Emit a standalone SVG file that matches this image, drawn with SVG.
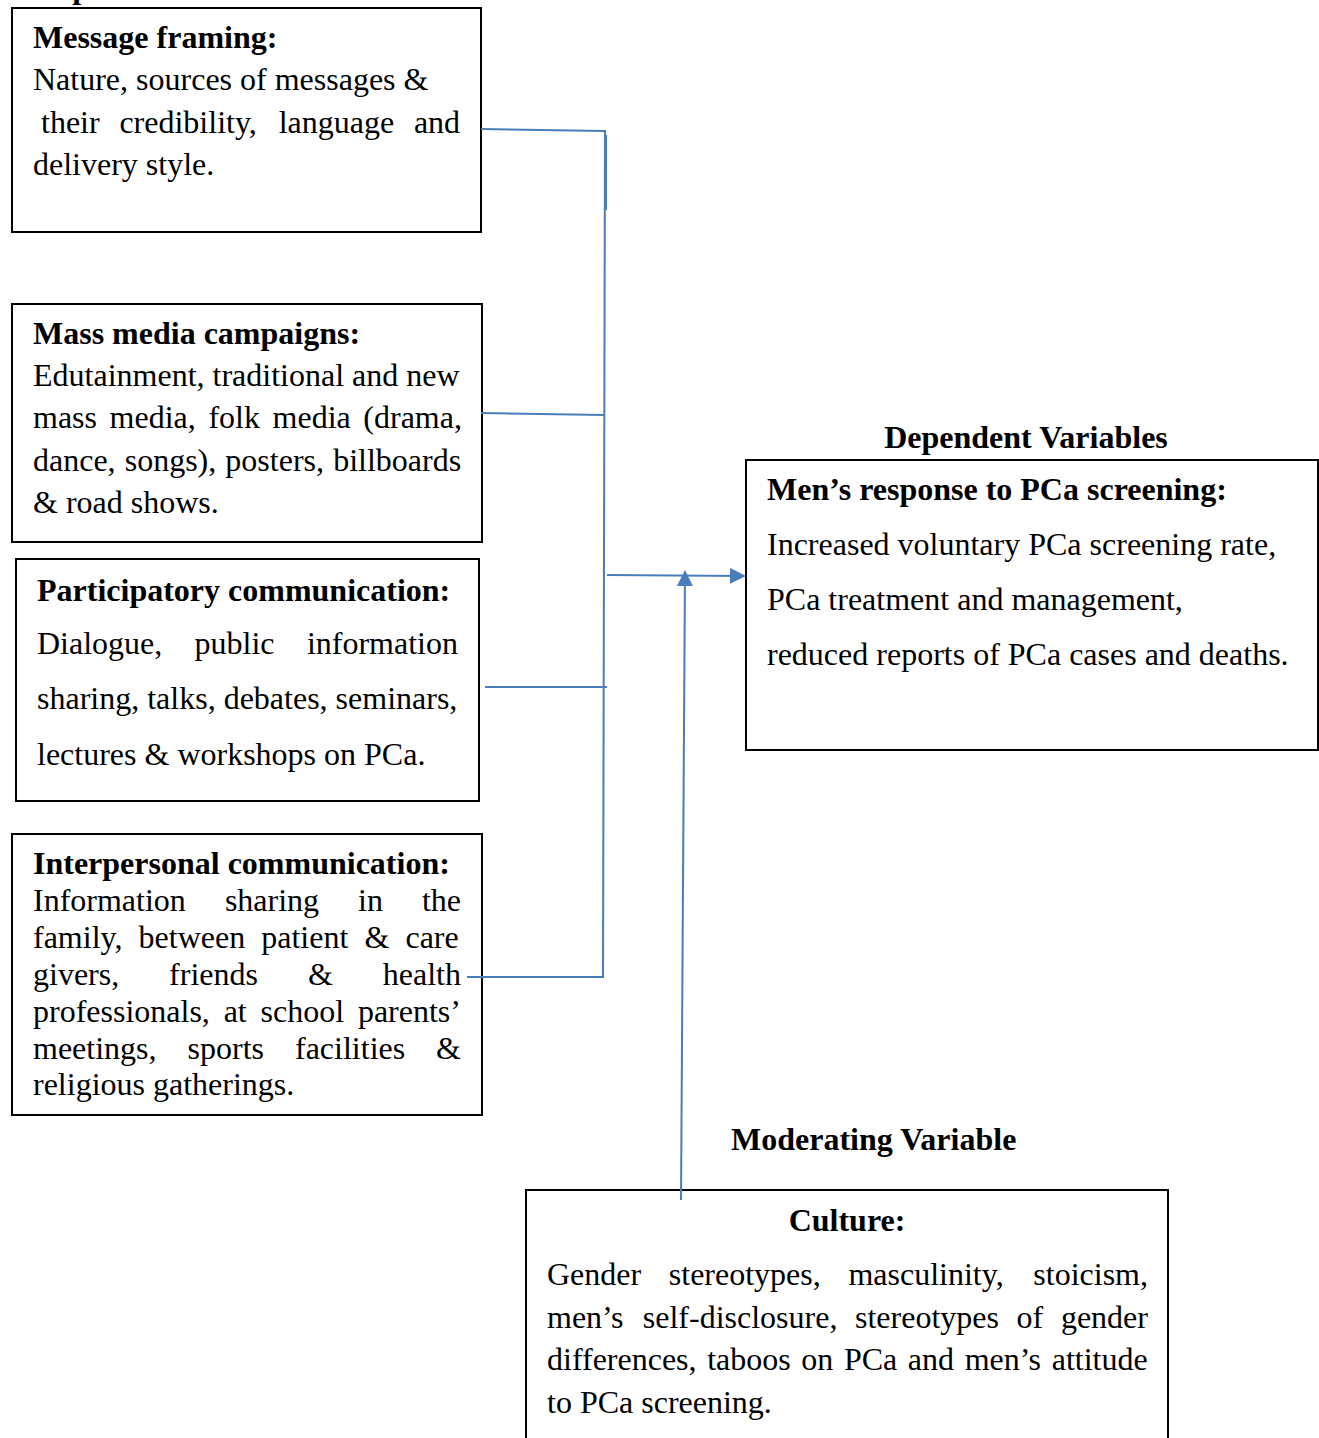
<svg xmlns="http://www.w3.org/2000/svg" width="1319" height="1438" viewBox="0 0 1319 1438">
<defs>
<style>
text{font-family:"Liberation Serif","Times New Roman",serif;font-size:32px;fill:#000}
.b{font-weight:bold}
.box{fill:#fff;stroke:#000;stroke-width:2}
.c{fill:none;stroke:#4A7EBB;stroke-width:2}
</style>
<marker id="ah" markerWidth="8" markerHeight="8" refX="7" refY="4" orient="auto" markerUnits="strokeWidth">
<path d="M0,0 L8,4 L0,8 z" fill="#4A7EBB"/>
</marker>
</defs>
<rect width="1319" height="1438" fill="#fff"/>
<text class="b" x="10" y="-2">Independent Variables</text>

<g id="message-framing">
<rect class="box" x="12" y="8" width="469" height="224"/>
<text class="b" x="33" y="48">Message framing:</text>
<text x="33" y="90">Nature, sources of messages &amp;</text>
<text y="133"><tspan x="41">their</tspan><tspan x="119.4">credibility,</tspan><tspan x="278.7">language</tspan><tspan x="413.9">and</tspan></text>
<text x="33" y="175">delivery style.</text>
</g>

<g id="mass-media">
<rect class="box" x="12" y="304" width="470" height="238"/>
<text class="b" x="33" y="344">Mass media campaigns:</text>
<text x="33" y="386">Edutainment, traditional and new</text>
<text x="33" y="428" style="word-spacing:4.6px">mass media, folk media (drama,</text>
<text x="33" y="471" style="word-spacing:1.1px">dance, songs), posters, billboards</text>
<text x="33" y="513">&amp; road shows.</text>
</g>

<g id="participatory">
<rect class="box" x="16" y="559" width="463" height="242"/>
<text class="b" x="37" y="601">Participatory communication:</text>
<text y="654"><tspan x="37">Dialogue,</tspan><tspan x="194.5">public</tspan><tspan x="306.9">information</tspan></text>
<text x="37" y="709">sharing, talks, debates, seminars,</text>
<text x="37" y="765">lectures &amp; workshops on PCa.</text>
</g>

<g id="interpersonal">
<rect class="box" x="12" y="834" width="470" height="281"/>
<text class="b" x="33" y="874">Interpersonal communication:</text>
<text y="911"><tspan x="33">Information</tspan><tspan x="224.9">sharing</tspan><tspan x="358.1">in</tspan><tspan x="421.9">the</tspan></text>
<text x="33" y="948" style="word-spacing:8.1px">family, between patient &amp; care</text>
<text y="985"><tspan x="33">givers,</tspan><tspan x="169.1">friends</tspan><tspan x="307.9">&amp;</tspan><tspan x="382.8">health</tspan></text>
<text x="33" y="1022" style="word-spacing:5.8px">professionals, at school parents’</text>
<text y="1059"><tspan x="33">meetings,</tspan><tspan x="187.6">sports</tspan><tspan x="295">facilities</tspan><tspan x="436.1">&amp;</tspan></text>
<text x="33" y="1095">religious gatherings.</text>
</g>

<text class="b" x="1026" y="448" text-anchor="middle">Dependent Variables</text>
<g id="mens-response">
<rect class="box" x="746" y="460" width="572" height="290"/>
<text class="b" x="767" y="500">Men’s response to PCa screening:</text>
<text x="767" y="555">Increased voluntary PCa screening rate,</text>
<text x="767" y="610">PCa treatment and management,</text>
<text x="767" y="665">reduced reports of PCa cases and deaths.</text>
</g>

<text class="b" x="731" y="1150">Moderating Variable</text>
<g id="culture">
<rect class="box" x="526" y="1190" width="642" height="260"/>
<text class="b" x="847" y="1231" text-anchor="middle">Culture:</text>
<text y="1285"><tspan x="547">Gender</tspan><tspan x="668.8">stereotypes,</tspan><tspan x="848.4">masculinity,</tspan><tspan x="1033.3">stoicism,</tspan></text>
<text y="1328"><tspan x="547">men’s</tspan><tspan x="642.8">self-disclosure,</tspan><tspan x="855">stereotypes</tspan><tspan x="1016.6">of</tspan><tspan x="1060.9">gender</tspan></text>
<text x="547" y="1370" style="word-spacing:2.6px">differences, taboos on PCa  and men’s attitude</text>
<text x="547" y="1413">to PCa screening.</text>
</g>

<g id="connectors">
<path class="c" d="M481,129 L605,131 L603,977"/>
<path class="c" d="M606,135 L606,210"/>
<path class="c" d="M481,413 L604,415"/>
<path class="c" d="M485,687 L607,687"/>
<path class="c" d="M467,977 L604,977"/>
<path class="c" d="M607,575 L744,576" marker-end="url(#ah)"/>
<path class="c" d="M681,1200 L685,572" marker-end="url(#ah)"/>
</g>
</svg>
